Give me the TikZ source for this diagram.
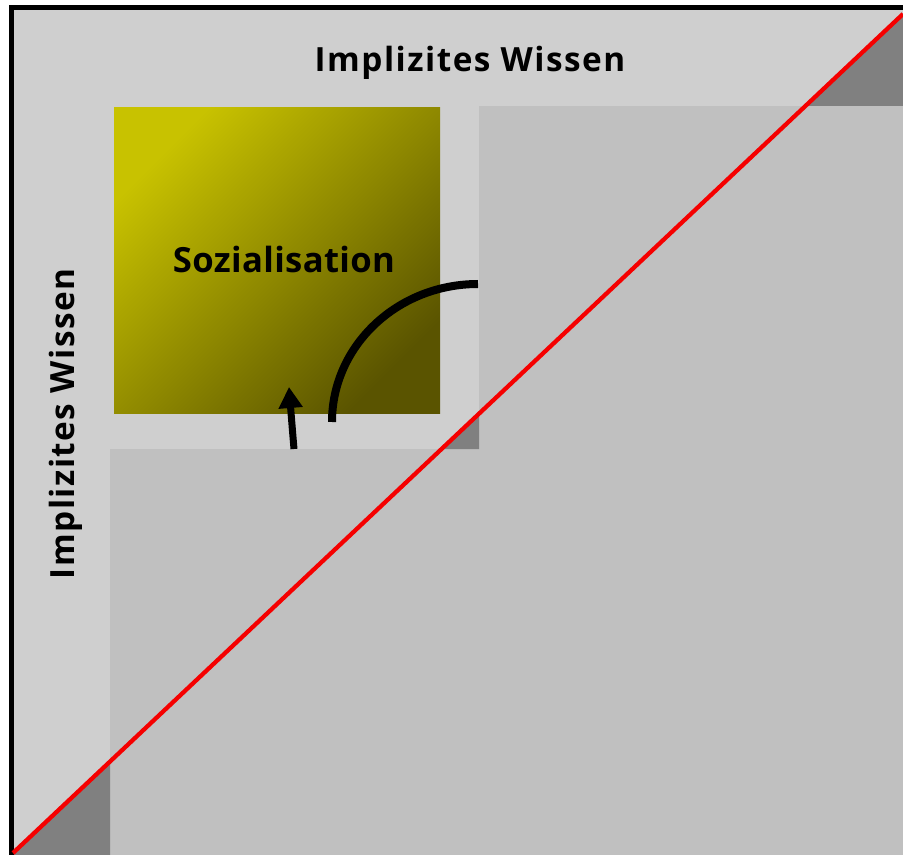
\documentclass[tikz,border=0pt]{standalone}
\usepackage{fontspec}
\newfontfamily\labfont{Open Sans}[LetterSpace=4.5]
\newfontfamily\sozfont{Open Sans}[LetterSpace=1]
\usetikzlibrary{arrows.meta}
\definecolor{lightbg}{RGB}{207,207,207}
\definecolor{midbg}{RGB}{192,192,192}
\definecolor{shadowgrey}{RGB}{128,128,128}
\definecolor{yellowtop}{RGB}{200,194,0}
\definecolor{yellowmid}{RGB}{165,158,0}
\definecolor{yellowbot}{RGB}{90,84,0}
\definecolor{diagred}{RGB}{245,0,0}
\begin{document}
\begin{tikzpicture}[x=0.75pt,y=-0.75pt,
  lab/.style={font=\labfont\bfseries\fontsize{25}{28}\selectfont, inner sep=0pt, anchor=base, text=black},
  sozlab/.style={font=\sozfont\bfseries\fontsize{26}{29}\selectfont, inner sep=0pt, anchor=base, text=black},
  greyblock/.style={fill=midbg},
  shadowtri/.style={fill=shadowgrey},
  cyclearc/.style={line width=6pt, line cap=butt},
  cyclearrow/.style={line width=5.25pt, -{Triangle[length=15.75pt,width=17.25pt]}}]
\useasboundingbox (0,0) rectangle (903,855);
\clip (0,0) rectangle (903,855);
\fill[white] (0,0) rectangle (903,855);
\fill[lightbg] (14,10) rectangle (903,855);
\fill[greyblock] (479,106) rectangle (903,855);
\fill[greyblock] (110,449) rectangle (903,855);
% shadow triangles under the diagonal
\fill[shadowtri] (13,853) -- (110,761.5) -- (110,855) -- (13,855) -- cycle;
\fill[shadowtri] (805,106) -- (903,14) -- (903,106) -- cycle;
\fill[shadowtri] (441.4,449) -- (479,413.6) -- (479,449) -- cycle;
% border
\draw[line width=3.75pt, line join=miter] (11.5,870) -- (11.5,8) -- (920,8);
% yellow square
\shade[top color=yellowtop, middle color=yellowmid, bottom color=yellowbot, shading angle=45] (114,108) rectangle (440,414);
% diagonal
\coordinate (rl0) at (13,853);
\coordinate (rl1) at (903,14);
\draw[diagred, line width=3.2pt] (rl0) -- (rl1);
% cycle arc
\coordinate (arcS) at (332,422);
\coordinate (arcE) at (478,284);
\draw[cyclearc] (arcS) .. controls (332,345.8) and (397.4,284) .. (arcE);
% small arrow
\coordinate (arrS) at (294,449);
\coordinate (arrE) at (289,387);
\draw[cyclearrow] (arrS) .. controls (292,425) .. (arrE);
% labels
\node[lab] (top) at (470,72) {Implizites Wissen};
\node[lab, rotate=90] (left) at (74,424) {Implizites Wissen};
\node[sozlab] (soz) at (284,273) {Sozialisation};
\end{tikzpicture}
\end{document}
